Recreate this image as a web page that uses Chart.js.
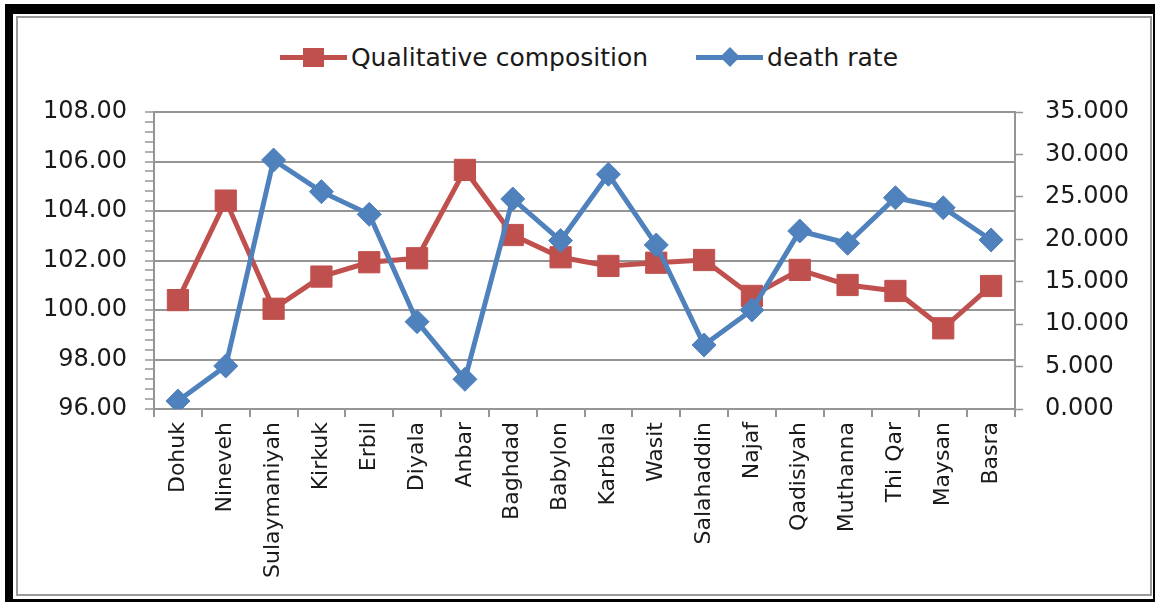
<!DOCTYPE html>
<html>
<head>
<meta charset="utf-8">
<script src="https://cdn.jsdelivr.net/npm/chart.js@4/dist/chart.umd.min.js"></script>
<style>
  html, body { margin: 0; padding: 0; background: #fff; }
  body { width: 1155px; height: 602px; position: relative; overflow: hidden; font-family: 'DejaVu Sans', sans-serif; }
  .outer {
    position: absolute; left: 5px; top: 4px; width: 1150px; height: 598px;
    box-sizing: border-box; border-style: solid; border-color: #000;
    border-width: 10px 2px 3px 8px;
  }
  .inner {
    position: absolute; left: 16px; top: 16px; width: 1136px; height: 580px;
    box-sizing: border-box; border: 2px solid #9a9a9a;
  }
  #chart { position: absolute; left: 18px; top: 18px; }
  #legend {
    position: absolute; left: 0; top: 40px; width: 1155px; height: 34px;
    box-sizing: border-box; padding-left: 23px;
    display: flex; justify-content: center; align-items: center; gap: 48px;
    font-size: 25px; color: #1a1a1a; white-space: nowrap;
  }
  .item { display: flex; align-items: center; gap: 4px; }
  .line { position: relative; width: 67px; height: 5px; }
  .mark { position: absolute; left: 50%; top: 50%; }
  .mark.rect { width: 21px; height: 19px; margin: -9.5px 0 0 -10.5px; }
  .mark.diamond { width: 14px; height: 14px; margin: -7px 0 0 -7px; transform: rotate(45deg); }
</style>
</head>
<body>
<div class="outer"></div>
<div class="inner"></div>
<div id="legend"></div>
<canvas id="chart" width="1132" height="576"></canvas>
<script>
const provinces = ['Dohuk', 'Nineveh', 'Sulaymaniyah', 'Kirkuk', 'Erbil', 'Diyala', 'Anbar', 'Baghdad', 'Babylon',
  'Karbala', 'Wasit', 'Salahaddin', 'Najaf', 'Qadisiyah', 'Muthanna', 'Thi Qar', 'Maysan', 'Basra'];

const qualitative = [100.40, 104.42, 100.05, 101.35, 101.93, 102.09, 105.66, 103.03, 102.13,
  101.78, 101.91, 102.02, 100.57, 101.62, 101.01, 100.77, 99.26, 100.97];

const deathRate = [0.94, 5.07, 29.34, 25.61, 22.94, 10.29, 3.50, 24.75, 19.85,
  27.66, 19.33, 7.54, 11.67, 20.98, 19.53, 24.90, 23.72, 19.92];

const leftMin = 96, leftMax = 108, leftStep = 2, leftMinorStep = 0.4;
const rightMin = 0, rightMax = 35, rightStep = 5;

const red = '#C0504D';
const blue = '#4F81BD';
const gridColor = '#959595';
const textColor = '#1a1a1a';

Chart.defaults.font.family = 'DejaVu Sans';
Chart.defaults.color = textColor;

function isMajor(v) {
  return Math.abs(v / leftStep - Math.round(v / leftStep)) < 1e-6;
}

const chart = new Chart(document.getElementById('chart'), {
  type: 'line',
  data: {
    labels: provinces,
    datasets: [{
      label: 'Qualitative composition',
      data: qualitative,
      yAxisID: 'y',
      order: 1,
      borderColor: red,
      backgroundColor: red,
      borderWidth: 5,
      pointStyle: 'rect',
      pointRadius: 15,
      pointBorderWidth: 1,
      tension: 0
    }, {
      label: 'death rate',
      data: deathRate,
      yAxisID: 'y1',
      order: 0,
      borderColor: blue,
      backgroundColor: blue,
      borderWidth: 5,
      pointStyle: 'rectRot',
      pointRadius: 12,
      pointBorderWidth: 1,
      tension: 0
    }]
  },
  options: {
    responsive: false,
    animation: false,
    layout: { padding: { top: 94, left: 0, right: 0, bottom: 0 } },
    plugins: {
      tooltip: { enabled: false },
      legend: { display: false }
    },
    scales: {
      x: {
        offset: true,
        grid: {
          offset: true,
          drawOnChartArea: false,
          drawTicks: true,
          tickLength: 8,
          color: gridColor,
          lineWidth: 2
        },
        border: { display: true, color: gridColor, width: 2 },
        ticks: {
          autoSkip: false,
          minRotation: 90,
          maxRotation: 90,
          padding: 5,
          color: textColor,
          font: { size: 22 }
        },
        afterFit(scale) { scale.height = 185; }
      },
      y: {
        position: 'left',
        min: leftMin,
        max: leftMax,
        grid: {
          color: ctx => isMajor(ctx.tick.value) ? gridColor : 'rgba(0,0,0,0)',
          tickColor: gridColor,
          lineWidth: 2,
          tickWidth: 1.5,
          tickLength: 9
        },
        border: { display: true, color: gridColor, width: 2 },
        ticks: {
          stepSize: leftMinorStep,
          autoSkip: false,
          padding: 18,
          color: textColor,
          font: { size: 24 },
          callback: v => isMajor(v) ? Number(v).toFixed(2) : ''
        },
        afterFit(scale) { scale.width = 136; }
      },
      y1: {
        position: 'right',
        min: rightMin,
        max: rightMax,
        grid: {
          drawOnChartArea: false,
          tickColor: gridColor,
          tickWidth: 1.5,
          tickLength: 8
        },
        border: { display: true, color: gridColor, width: 2 },
        ticks: {
          stepSize: rightStep,
          padding: 22,
          color: textColor,
          font: { size: 24 },
          callback: v => Number(v).toFixed(3)
        },
        afterFit(scale) { scale.width = 135; }
      }
    }
  }
});

// legend as html: line with the series marker, then the name
const legendEl = document.getElementById('legend');
chart.data.datasets.forEach(ds => {
  const item = document.createElement('div');
  item.className = 'item';
  const line = document.createElement('div');
  line.className = 'line';
  line.style.background = ds.borderColor;
  const mark = document.createElement('div');
  mark.className = 'mark ' + (ds.pointStyle === 'rect' ? 'rect' : 'diamond');
  mark.style.background = ds.backgroundColor;
  line.appendChild(mark);
  const txt = document.createElement('span');
  txt.textContent = ds.label;
  item.appendChild(line);
  item.appendChild(txt);
  legendEl.appendChild(item);
});
</script>
</body>
</html>
